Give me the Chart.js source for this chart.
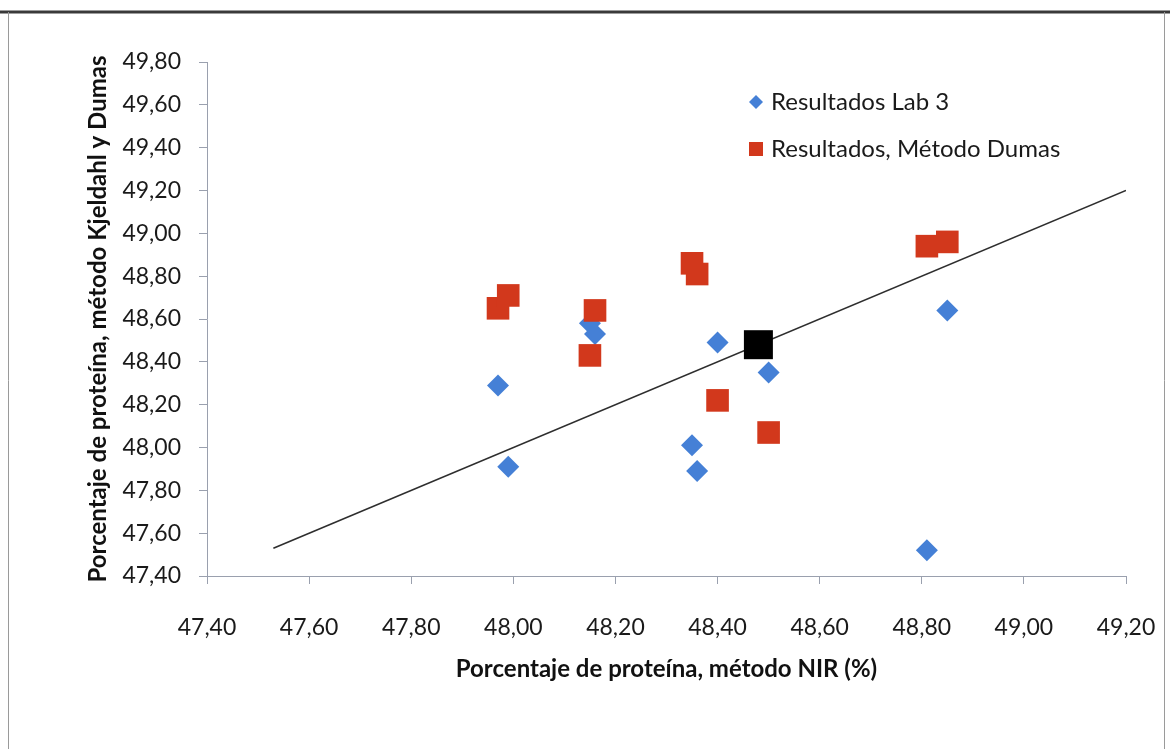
<!DOCTYPE html>
<html>
<head>
<meta charset="utf-8">
<script src="https://cdn.jsdelivr.net/npm/chart.js@4.4.1/dist/chart.umd.min.js"></script>
<style>
  html, body { margin: 0; padding: 0; background: #fff; }
  #wrap { width: 1170px; height: 749px; position: relative; }
</style>
</head>
<body>
<div id="wrap"><canvas id="c" width="1170" height="749"></canvas></div>
<script>
// ---- Data ----
const nirValues   = [47.97, 47.99, 48.15, 48.16, 48.35, 48.36, 48.40, 48.50, 48.81, 48.85];
const lab3Values  = [48.29, 47.91, 48.58, 48.53, 48.01, 47.89, 48.49, 48.35, 47.52, 48.64];
const dumasValues = [48.65, 48.71, 48.43, 48.64, 48.86, 48.81, 48.22, 48.07, 48.94, 48.96];
const meanPointX  = [48.48];
const meanPointY  = [48.48];
const refLineX    = [47.53, 49.20];
const refLineY    = [47.53, 49.20];
const seriesNames = ['Resultados Lab 3', 'Resultados, Método Dumas'];
const xTitle = 'Porcentaje de proteína, método NIR (%)';
const yTitle = 'Porcentaje de proteína, método Kjeldahl y Dumas';
const xMin = 47.4, xMax = 49.2, yMin = 47.4, yMax = 49.8, step = 0.2;

const toPts = (xs, ys) => xs.map((x, i) => ({ x: x, y: ys[i] }));
const fmt = v => (Math.round(v * 100) / 100).toFixed(2).replace('.', ',');

const BLUE = '#4580d6';
const RED = '#d2381c';
const FONT = 'Lato, "Open Sans", "DejaVu Sans", sans-serif';

const framePlugin = {
  id: 'frameAndLegend',
  afterDraw(chart) {
    const ctx = chart.ctx;
    ctx.save();
    // frame
    ctx.strokeStyle = '#3a3a3a';
    ctx.lineWidth = 3;
    ctx.beginPath(); ctx.moveTo(0, 12); ctx.lineTo(1170, 12); ctx.stroke();
    ctx.strokeStyle = '#9a9a9a';
    ctx.lineWidth = 1;
    ctx.beginPath(); ctx.moveTo(8.5, 12); ctx.lineTo(8.5, 749); ctx.stroke();
    ctx.beginPath(); ctx.moveTo(1164.5, 12); ctx.lineTo(1164.5, 749); ctx.stroke();
    // legend
    ctx.font = '24px ' + FONT;
    ctx.textBaseline = 'middle';
    ctx.textAlign = 'left';
    // row 1: diamond
    let cx = 756, cy = 102;
    ctx.fillStyle = BLUE;
    ctx.beginPath();
    ctx.moveTo(cx, cy - 7); ctx.lineTo(cx + 7, cy); ctx.lineTo(cx, cy + 7); ctx.lineTo(cx - 7, cy);
    ctx.closePath(); ctx.fill();
    ctx.fillStyle = '#1a1a1a';
    ctx.fillText(seriesNames[0], 771, cy);
    // row 2: square
    cy = 149;
    ctx.fillStyle = RED;
    ctx.fillRect(749, cy - 7, 14, 14);
    ctx.fillStyle = '#1a1a1a';
    ctx.fillText(seriesNames[1], 771, cy);
    ctx.restore();
  }
};

new Chart(document.getElementById('c'), {
  type: 'scatter',
  data: {
    datasets: [
      {
        label: 'ref',
        data: toPts(refLineX, refLineY),
        showLine: true,
        borderColor: '#2e2e2e',
        borderWidth: 1.6,
        pointRadius: 0,
        fill: false,
        order: 4
      },
      {
        label: seriesNames[0],
        data: toPts(nirValues, lab3Values),
        pointStyle: 'rectRot',
        pointRadius: 11,
        backgroundColor: BLUE,
        borderColor: BLUE,
        borderWidth: 0,
        order: 3
      },
      {
        label: seriesNames[1],
        data: toPts(nirValues, dumasValues),
        pointStyle: 'rect',
        pointRadius: 16,
        backgroundColor: RED,
        borderColor: RED,
        borderWidth: 0,
        order: 2
      },
      {
        label: 'media',
        data: toPts(meanPointX, meanPointY),
        pointStyle: 'rect',
        pointRadius: 20.5,
        backgroundColor: '#000',
        borderColor: '#000',
        borderWidth: 0,
        order: 1
      }
    ]
  },
  options: {
    responsive: false,
    animation: false,
    events: [],
    layout: { padding: { top: 62, right: 44, bottom: 0, left: 0 } },
    plugins: {
      legend: { display: false },
      tooltip: { enabled: false },
      title: { display: false }
    },
    scales: {
      x: {
        type: 'linear',
        min: xMin, max: xMax,
        afterFit: s => { s.height = 749 - 576; s.paddingRight = 0; s.paddingLeft = 0; },
        ticks: {
          stepSize: step,
          callback: v => fmt(v),
          font: { family: FONT, size: 23 },
          color: '#1a1a1a',
          padding: 30,
          maxRotation: 0,
          autoSkip: false
        },
        grid: { drawOnChartArea: false, drawTicks: true, tickLength: 8, color: '#9aa0ae' },
        border: { color: '#9aa0ae', width: 1 },
        title: {
          display: true,
          text: xTitle,
          font: { family: FONT, size: 24, weight: 'bold' },
          color: '#111',
          padding: { top: 0, bottom: 65 }
        }
      },
      y: {
        type: 'linear',
        min: yMin, max: yMax,
        afterFit: s => { s.width = 207; },
        ticks: {
          stepSize: step,
          callback: v => fmt(v),
          font: { family: FONT, size: 23 },
          color: '#1a1a1a',
          padding: 18
        },
        grid: { drawOnChartArea: false, drawTicks: true, tickLength: 8, color: '#9aa0ae' },
        border: { color: '#9aa0ae', width: 1 },
        title: {
          display: true,
          text: yTitle,
          font: { family: FONT, size: 24, weight: 'bold' },
          color: '#111',
          padding: { top: 84, bottom: 0 }
        }
      }
    }
  },
  plugins: [framePlugin]
});
</script>
</body>
</html>
